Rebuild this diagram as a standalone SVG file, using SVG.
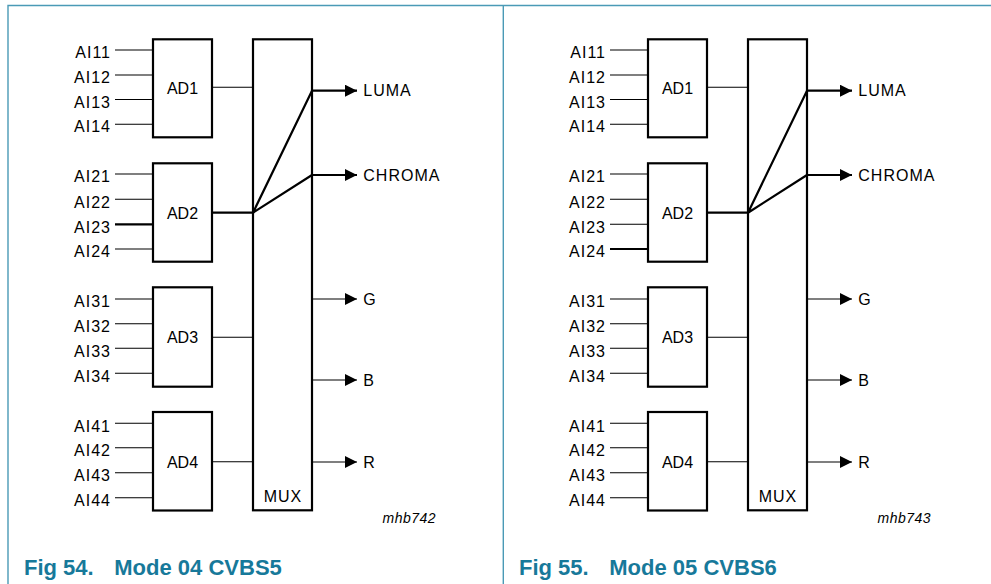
<svg xmlns="http://www.w3.org/2000/svg" width="991" height="584" viewBox="0 0 991 584">
<defs>
<style>
.frame{fill:none;stroke:#4a9ab6;stroke-width:1.4}
.box{fill:none;stroke:#000;stroke-width:2.2}
.thin{fill:none;stroke:#000;stroke-width:1.1}
.thick{fill:none;stroke:#000;stroke-width:2.2}
.arr{marker-end:url(#ah)}
text{font-family:"Liberation Sans",Arial,Helvetica,sans-serif;fill:#000}
.in{font-size:16px;letter-spacing:1px;text-anchor:end}
.bl{font-size:16px;text-anchor:middle}
.out{font-size:16px;letter-spacing:1px}
.mux{font-size:16px;letter-spacing:1px;text-anchor:middle}
.code{font-size:14px;font-style:italic;letter-spacing:0.5px}
.cap{font-size:22px;font-weight:bold;fill:#17799a}
</style>
<marker id="ah" viewBox="0 0 12 12" refX="12" refY="6" markerWidth="12" markerHeight="12" markerUnits="userSpaceOnUse" orient="auto">
<path d="M0,0 L12,6 L0,12 z" fill="#000"/>
</marker>
</defs>
<rect x="0" y="0" width="991" height="584" fill="#fff"/>
<g id="frame">
<path class="frame" d="M8,584 V5.5 H991"/>
<path class="frame" d="M503.3,5.5 V584"/>
</g>

<!-- LEFT PANEL: Fig 54 -->
<g id="fig54">
<g id="fig54-ad1">
<rect class="box" x="153" y="39.3" width="59" height="98"/>
<text class="bl" x="182.5" y="94.3">AD1</text>
<text class="in" x="111" y="58">AI11</text>
<text class="in" x="111" y="83">AI12</text>
<text class="in" x="111" y="107.5">AI13</text>
<text class="in" x="111" y="132.3">AI14</text>
</g>
<g id="fig54-ad2">
<rect class="box" x="153" y="163.3" width="59" height="98.4"/>
<text class="bl" x="182.5" y="218.5">AD2</text>
<text class="in" x="111" y="182.3">AI21</text>
<text class="in" x="111" y="207.5">AI22</text>
<text class="in" x="111" y="232.5">AI23</text>
<text class="in" x="111" y="257.3">AI24</text>
</g>
<g id="fig54-ad3">
<rect class="box" x="153" y="287.3" width="59" height="99.4"/>
<text class="bl" x="182.5" y="343.4">AD3</text>
<text class="in" x="111" y="307.2">AI31</text>
<text class="in" x="111" y="332">AI32</text>
<text class="in" x="111" y="356.6">AI33</text>
<text class="in" x="111" y="381.5">AI34</text>
</g>
<g id="fig54-ad4">
<rect class="box" x="153" y="412" width="59" height="98.5"/>
<text class="bl" x="182.5" y="467.8">AD4</text>
<text class="in" x="111" y="431.5">AI41</text>
<text class="in" x="111" y="456">AI42</text>
<text class="in" x="111" y="481">AI43</text>
<text class="in" x="111" y="506">AI44</text>
</g>
<g id="fig54-mux">
<rect class="box" x="253" y="39.3" width="59" height="471"/>
<text class="mux" x="283" y="501.7">MUX</text>
</g>
<g id="fig54-outputs">
<text class="out" x="363.3" y="96.3">LUMA</text>
<text class="out" x="363.3" y="180.8">CHROMA</text>
<text class="out" x="363.3" y="304.8">G</text>
<text class="out" x="363.3" y="385.8">B</text>
<text class="out" x="363.3" y="467.8">R</text>
</g>
<g id="fig54-connectors">
<path class="thin" d="M115,50 H153 M115,75 H153 M115,99.5 H153 M115,124.3 H153"/>
<path class="thin" d="M115,174 H153 M115,199.3 H153 M115,249 H153"/>
<path class="thick" d="M115,224.3 H153"/>
<path class="thin" d="M115,299 H153 M115,323.7 H153 M115,348.3 H153 M115,373.3 H153"/>
<path class="thin" d="M115,423.3 H153 M115,447.7 H153 M115,472.7 H153 M115,497.7 H153"/>
<path class="thin" d="M212,87.3 H253"/>
<path class="thick" d="M212,212.7 H253"/>
<path class="thin" d="M212,337.3 H253"/>
<path class="thin" d="M212,461.7 H253"/>
<path class="thick" d="M253,212.7 L312,90.7 M253,212.7 L312,175"/>
<path class="thick arr" d="M312,90.7 H357"/>
<path class="thick arr" d="M312,175 H357"/>
<path class="thin arr" d="M312,299 H357"/>
<path class="thin arr" d="M312,380 H357"/>
<path class="thin arr" d="M312,462 H357"/>
</g>
<text class="code" x="382.5" y="522.5">mhb742</text>
<text class="cap" x="24" y="575">Fig 54.<tspan x="114.3">Mode 04 CVBS5</tspan></text>
</g>

<!-- RIGHT PANEL: Fig 55 -->
<g id="fig55" transform="translate(495,0)">
<g id="fig55-ad1">
<rect class="box" x="153" y="39.3" width="59" height="98"/>
<text class="bl" x="182.5" y="94.3">AD1</text>
<text class="in" x="111" y="58">AI11</text>
<text class="in" x="111" y="83">AI12</text>
<text class="in" x="111" y="107.5">AI13</text>
<text class="in" x="111" y="132.3">AI14</text>
</g>
<g id="fig55-ad2">
<rect class="box" x="153" y="163.3" width="59" height="98.4"/>
<text class="bl" x="182.5" y="218.5">AD2</text>
<text class="in" x="111" y="182.3">AI21</text>
<text class="in" x="111" y="207.5">AI22</text>
<text class="in" x="111" y="232.5">AI23</text>
<text class="in" x="111" y="257.3">AI24</text>
</g>
<g id="fig55-ad3">
<rect class="box" x="153" y="287.3" width="59" height="99.4"/>
<text class="bl" x="182.5" y="343.4">AD3</text>
<text class="in" x="111" y="307.2">AI31</text>
<text class="in" x="111" y="332">AI32</text>
<text class="in" x="111" y="356.6">AI33</text>
<text class="in" x="111" y="381.5">AI34</text>
</g>
<g id="fig55-ad4">
<rect class="box" x="153" y="412" width="59" height="98.5"/>
<text class="bl" x="182.5" y="467.8">AD4</text>
<text class="in" x="111" y="431.5">AI41</text>
<text class="in" x="111" y="456">AI42</text>
<text class="in" x="111" y="481">AI43</text>
<text class="in" x="111" y="506">AI44</text>
</g>
<g id="fig55-mux">
<rect class="box" x="253" y="39.3" width="59" height="471"/>
<text class="mux" x="283" y="501.7">MUX</text>
</g>
<g id="fig55-outputs">
<text class="out" x="363.3" y="96.3">LUMA</text>
<text class="out" x="363.3" y="180.8">CHROMA</text>
<text class="out" x="363.3" y="304.8">G</text>
<text class="out" x="363.3" y="385.8">B</text>
<text class="out" x="363.3" y="467.8">R</text>
</g>
<g id="fig55-connectors">
<path class="thin" d="M115,50 H153 M115,75 H153 M115,99.5 H153 M115,124.3 H153"/>
<path class="thin" d="M115,174 H153 M115,199.3 H153 M115,224.3 H153"/>
<path class="thick" d="M115,249 H153"/>
<path class="thin" d="M115,299 H153 M115,323.7 H153 M115,348.3 H153 M115,373.3 H153"/>
<path class="thin" d="M115,423.3 H153 M115,447.7 H153 M115,472.7 H153 M115,497.7 H153"/>
<path class="thin" d="M212,87.3 H253"/>
<path class="thick" d="M212,212.7 H253"/>
<path class="thin" d="M212,337.3 H253"/>
<path class="thin" d="M212,461.7 H253"/>
<path class="thick" d="M253,212.7 L312,90.7 M253,212.7 L312,175"/>
<path class="thick arr" d="M312,90.7 H357"/>
<path class="thick arr" d="M312,175 H357"/>
<path class="thin arr" d="M312,299 H357"/>
<path class="thin arr" d="M312,380 H357"/>
<path class="thin arr" d="M312,462 H357"/>
</g>
<text class="code" x="382.5" y="522.5">mhb743</text>
<text class="cap" x="24" y="575">Fig 55.<tspan x="114.3">Mode 05 CVBS6</tspan></text>
</g>
</svg>
